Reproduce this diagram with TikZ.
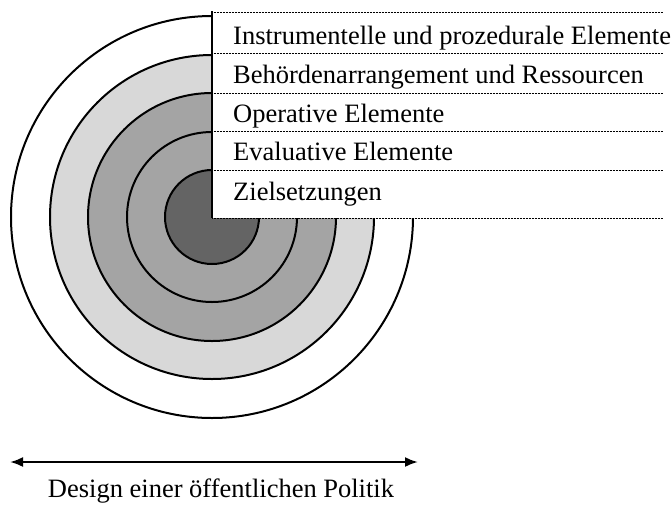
\documentclass[tikz,border=0pt]{standalone}
\usepackage{fontspec}
\setmainfont{Liberation Serif}
\usepackage{tikz}
\usetikzlibrary{arrows.meta, positioning}
\definecolor{ringlight}{RGB}{216, 216, 216}
\definecolor{ringmid}{RGB}{164, 164, 164}
\definecolor{ringdark}{RGB}{100, 100, 100}
\tikzset{
    ring/.style={draw=black, line width=2pt},
    rowline/.style={line width=1pt, dash pattern=on 0.9pt off 0.6pt},
    rowtext/.style={anchor=base west, inner sep=0pt, font=\fontsize{26.5}{30}\selectfont}
}

\begin{document}
\begin{tikzpicture}[x=1pt, y=-1pt]
        \useasboundingbox (0,0) rectangle (672,504);
        % Rings around the centre
        \coordinate (c) at (212,217);
        \filldraw[ring, fill=white] (c) circle (201);
        \filldraw[ring, fill=ringlight] (c) circle (162);
        \filldraw[ring, fill=ringmid] (c) circle (124);
        \filldraw[ring, fill=ringmid] (c) circle (85);
        \filldraw[ring, fill=ringdark] (c) circle (47);
        % Table of elements
        \fill[white] (212,12) rectangle (663,218);
        \foreach \y in {12,53,93,131,170,218}
            \draw[rowline] (212,\y) -- (663,\y);
        \draw[line width=2pt] (212,11) -- (212,218);
        \node[rowtext] (instr) at (233,44) {Instrumentelle und prozedurale Elemente};
        \node[rowtext] (behoerde) at (233,83) {Behördenarrangement und Ressourcen};
        \node[rowtext] (operativ) at (233,122) {Operative Elemente};
        \node[rowtext] (evaluativ) at (233,160) {Evaluative Elemente};
        \node[rowtext] (ziel) at (233,200) {Zielsetzungen};
        % Width of the design
        \coordinate (arrL) at (10,462);
        \coordinate (arrR) at (418,462);
        \draw[line width=2.2pt, {Latex[length=13pt,width=10pt]}-{Latex[length=13pt,width=10pt]}] (arrL) -- (arrR);
        \node[rowtext, anchor=base] (design) at (221,497) {Design einer öffentlichen Politik};
    \end{tikzpicture}
\end{document}
